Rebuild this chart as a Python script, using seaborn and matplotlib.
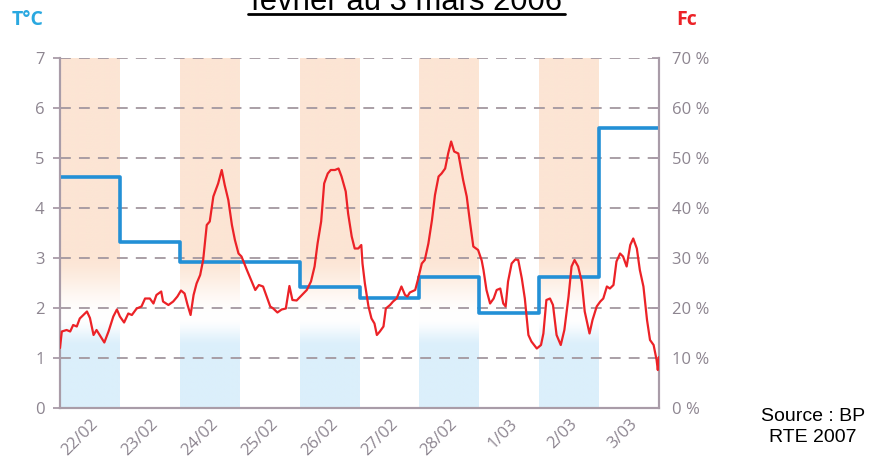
import numpy as np
import pandas as pd
import matplotlib.pyplot as plt
import seaborn as sns
from matplotlib.lines import Line2D
from matplotlib.transforms import ScaledTranslation

# --- data ---
days = ['22/02', '23/02', '24/02', '25/02', '26/02',
        '27/02', '28/02', '1/03', '2/03', '3/03']

# daily mean temperature (°C), one value per day
temp = [4.63, 3.32, 2.92, 2.92, 2.42, 2.21, 2.63, 1.90, 2.62, 5.60]

# load factor Fc (%), position in days since 22/02 00h
fc_t = [0.00, 0.03, 0.11, 0.17, 0.22, 0.28, 0.33, 0.45, 0.50, 0.56, 0.61, 0.74, 0.81, 0.89, 0.95,
        1.00, 1.07, 1.14, 1.20, 1.28, 1.36, 1.42, 1.50, 1.56, 1.61, 1.69, 1.72, 1.81, 1.89, 1.96,
        2.02, 2.08, 2.13, 2.18, 2.23, 2.28, 2.34, 2.39, 2.45, 2.50, 2.56, 2.64, 2.70, 2.75, 2.81,
        2.87, 2.92, 2.98, 3.03, 3.12, 3.20, 3.26, 3.32, 3.39, 3.45, 3.51, 3.56, 3.63, 3.70, 3.77,
        3.83, 3.88, 3.95, 4.04, 4.12, 4.19, 4.25, 4.30, 4.36, 4.41, 4.47, 4.52, 4.59, 4.65, 4.70,
        4.77, 4.81, 4.87, 4.92, 4.98, 5.03, 5.05, 5.09, 5.15, 5.20, 5.25, 5.29, 5.34, 5.40, 5.44,
        5.51, 5.56, 5.62, 5.70, 5.76, 5.80, 5.84, 5.93, 5.98, 6.04, 6.09, 6.15, 6.21, 6.26, 6.32,
        6.37, 6.43, 6.48, 6.53, 6.58, 6.65, 6.73, 6.79, 6.84, 6.90, 6.98, 7.04, 7.07, 7.12, 7.18,
        7.24, 7.29, 7.35, 7.40, 7.44, 7.48, 7.54, 7.60, 7.65, 7.71, 7.76, 7.82, 7.87, 7.96, 8.03,
        8.07, 8.12, 8.18, 8.23, 8.29, 8.36, 8.42, 8.49, 8.54, 8.59, 8.65, 8.71, 8.76, 8.84, 8.89,
        8.96, 9.02, 9.07, 9.13, 9.18, 9.24, 9.29, 9.35, 9.40, 9.46, 9.52, 9.57, 9.63, 9.68, 9.74,
        9.80, 9.85, 9.91, 9.96, 9.98, 10.00]
fc = [12.0, 15.3, 15.6, 15.3, 16.6, 16.3, 17.9, 19.3, 18.0, 14.6, 15.6, 13.1, 15.3, 18.3, 19.7,
      18.3, 17.1, 18.9, 18.6, 19.9, 20.3, 21.9, 21.9, 20.9, 22.6, 23.3, 21.3, 20.6, 21.3, 22.3,
      23.5, 22.9, 20.6, 18.6, 22.6, 24.9, 26.6, 29.6, 36.6, 37.3, 42.3, 44.9, 47.6, 44.6, 41.6,
      36.6, 33.6, 30.9, 30.3, 27.6, 25.3, 23.6, 24.6, 24.3, 22.3, 20.3, 19.9, 19.1, 19.7, 19.9,
      24.4, 21.6, 21.5, 22.6, 23.6, 25.3, 28.3, 32.9, 37.3, 44.9, 46.9, 47.6, 47.6, 47.9, 46.3,
      43.3, 38.9, 34.3, 31.9, 31.9, 32.6, 28.9, 24.9, 20.3, 17.9, 16.9, 14.6, 15.3, 16.3, 19.9,
      20.6, 21.3, 21.9, 24.3, 22.6, 22.3, 23.1, 23.6, 25.9, 28.9, 29.6, 32.9, 37.6, 42.6, 46.3,
      46.9, 47.9, 50.9, 53.3, 51.3, 50.9, 45.6, 42.3, 37.6, 32.3, 31.6, 29.5, 27.6, 23.6, 20.9,
      21.9, 23.6, 23.9, 20.9, 20.3, 25.3, 28.9, 29.7, 29.6, 25.9, 21.9, 14.6, 13.3, 11.9, 12.6,
      14.9, 21.6, 21.9, 20.6, 14.6, 12.6, 15.6, 22.3, 28.3, 29.6, 28.3, 25.3, 19.3, 14.9, 17.6,
      20.3, 21.3, 21.9, 24.3, 23.9, 24.6, 29.3, 30.9, 30.3, 28.3, 32.6, 33.9, 31.9, 27.6, 24.3,
      17.6, 13.6, 12.6, 9.6, 7.6, 10.2]

shaded_days = [0, 2, 4, 6, 8]

# --- style ---
grey_txt = '#8d8590'
axis_col = '#a99ca8'
grid_col = '#a3979f'
blue = '#2390d6'
red = '#ec2227'

sns.set_style('white')
plt.rcParams['font.family'] = ['Open Sans', 'DejaVu Sans']

fig = plt.figure(figsize=(8.71, 4.66), dpi=100)
ax = fig.add_axes([60 / 871, 1 - 408 / 466, 599 / 871, 350 / 466])

# background bands: peach at top fading out, pale blue at the bottom
n = 400
v = np.linspace(7, 0, n)
a_or = np.clip((v - 1.8) / 1.3, 0, 1)
a_or = a_or * a_or * (3 - 2 * a_or)
a_bl = np.clip((1.8 - v) / 0.6, 0, 1)
a_bl = a_bl * a_bl * (3 - 2 * a_bl)
c_or = np.array([252, 229, 212]) / 255
c_bl = np.array([219, 239, 251]) / 255
rgb = (np.outer(a_or, c_or) + np.outer(a_bl, c_bl)
       + np.outer(1 - a_or - a_bl, [1, 1, 1]))
img = rgb.reshape(n, 1, 3)
for d in shaded_days:
    ax.imshow(img, extent=[d, d + 1, 0, 7], aspect='auto', zorder=0,
              interpolation='bilinear')

# temperature step line
df_t = pd.DataFrame({'t': list(range(len(temp))) + [len(temp)],
                     'temp': temp + [temp[-1]]})
sns.lineplot(data=df_t, x='t', y='temp', ax=ax, color=blue, lw=2.6,
             drawstyle='steps-post', zorder=3)

ax.set_xlim(0, 10)
ax.set_ylim(0, 7)
ax.set_yticks(range(8))
ax.yaxis.grid(True, color=grid_col, lw=1.3, ls=(0, (6, 4.5)))
ax.xaxis.grid(False)
ax.set_axisbelow(True)
ax.set_xlabel('')
ax.set_ylabel('')

ax.set_xticks([d + 0.5 for d in range(len(days))])
ax.set_xticklabels(days, rotation=45, ha='right', va='top',
                   rotation_mode='anchor')
for lab in ax.get_xticklabels():
    lab.set_transform(lab.get_transform() +
                      ScaledTranslation(12 / 72, 0, fig.dpi_scale_trans))
ax.tick_params(axis='x', length=0, pad=6, labelsize=12, labelcolor=grey_txt)
ax.tick_params(axis='y', length=5, width=1.3, color=axis_col, direction='out',
               pad=6, labelsize=12, labelcolor=grey_txt)

# load factor on the right axis
ax2 = ax.twinx()
sns.lineplot(x=fc_t, y=fc, ax=ax2, color=red, lw=1.6, zorder=4)
ax2.set_ylim(0, 70)
ax2.set_xlim(0, 10)
ax2.set_yticks(range(0, 71, 10))
ax2.set_yticklabels([f'{p} %' for p in range(0, 71, 10)])
ax2.tick_params(axis='y', length=5, width=1.3, color=axis_col, direction='in',
                pad=9, labelsize=12, labelcolor=grey_txt)
ax2.grid(False)

for a in (ax, ax2):
    a.spines['top'].set_visible(False)
    for s in ('left', 'right', 'bottom'):
        a.spines[s].set_color(axis_col)
        a.spines[s].set_linewidth(1.5)

# texts around the plot
fig.text(12 / 871, 1 - 20 / 466, 'T°C', color='#2aa8e0', fontsize=14,
         fontweight='bold', va='center', ha='left')
fig.text(676 / 871, 1 - 20 / 466, 'Fc', color=red, fontsize=14,
         fontweight='bold', va='center', ha='left')
fig.text(406 / 871, 1 - 10 / 466, 'février au 3 mars 2006', color='black',
         fontsize=22.3, ha='center', va='baseline', family='Liberation Sans')
fig.add_artist(Line2D([248 / 871, 565 / 871], [1 - 14 / 466, 1 - 14 / 466],
                      color='black', lw=2, transform=fig.transFigure))
fig.text(813 / 871, 1 - 427 / 466, 'Source : BP\nRTE 2007', color='black',
         fontsize=14, ha='center', va='center', multialignment='center',
         linespacing=1.35, family='Liberation Sans')

fig.savefig('out.png', dpi=100)
